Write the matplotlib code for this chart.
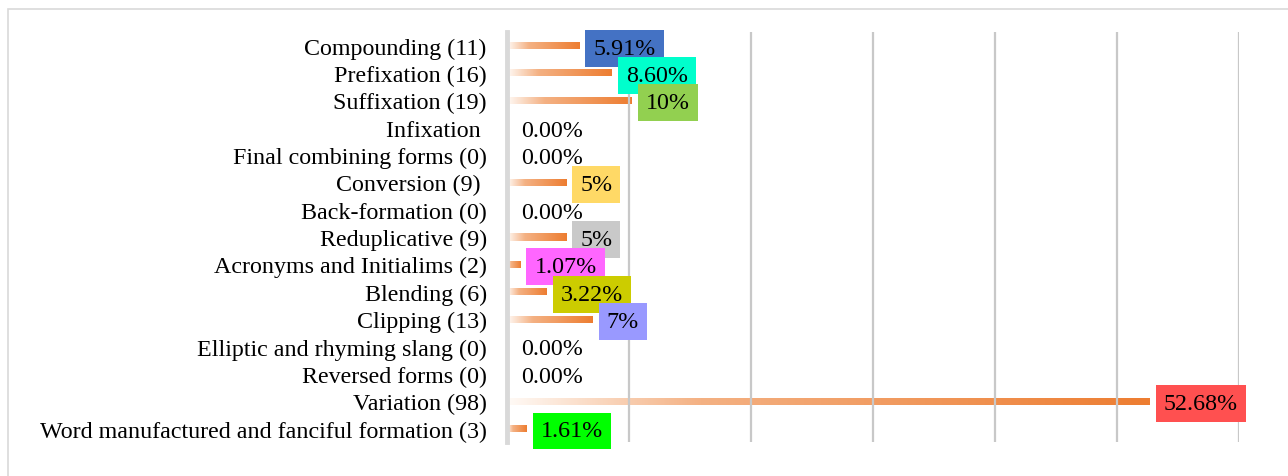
import matplotlib
matplotlib.use('Agg')
import matplotlib.pyplot as plt
import numpy as np
from matplotlib.colors import LinearSegmentedColormap
from matplotlib.patches import Rectangle

# categories, top to bottom
categories = ['Compounding (11)', 'Prefixation (16)', 'Suffixation (19)', 'Infixation ',
              'Final combining forms (0)', 'Conversion (9) ', 'Back-formation (0)',
              'Reduplicative (9)', 'Acronyms and Initialims (2)', 'Blending (6)',
              'Clipping (13)', 'Elliptic and rhyming slang (0)', 'Reversed forms (0)',
              'Variation (98)', 'Word manufactured and fanciful formation (3)']
# percentages (bar lengths)
values = [5.91, 8.60, 10.22, 0, 0, 4.84, 0, 4.84, 1.07, 3.22, 6.99, 0, 0, 52.68, 1.61]
# data label texts and their box colours
labels = ['5.91%', '8.60%', '10%', '0.00%', '0.00%', '5%', '0.00%', '5%', '1.07%',
          '3.22%', '7%', '0.00%', '0.00%', '52.68%', '1.61%']
box_colors = ['#4472C4', '#00FFCC', '#92D050', None, None, '#FFD966', None, '#C9C9C9',
              '#FF66FF', '#CCCC00', '#9999FF', None, None, '#FF5050', '#00FF00']

plt.rcParams['font.family'] = ['Liberation Serif', 'DejaVu Serif']
plt.rcParams['font.size'] = 17.3

fig = plt.figure(figsize=(12.88, 4.77), dpi=100)
ax = fig.add_axes([0.394, 0.071, 0.568, 0.860])

# outer border of the chart area
fig.patches.append(Rectangle((8 / 1288, -0.1), 1.2, 1.1 - 10 / 477, transform=fig.transFigure,
                             fill=False, edgecolor='#d9d9d9', linewidth=1.2))

y = np.arange(len(categories))
bars = ax.barh(y, values, height=0.26, color='none', edgecolor='none')

# white -> orange gradient inside each bar
cmap = LinearSegmentedColormap.from_list('grad', [(0, '#fffaf6'), (0.3, '#f4b183'), (1, '#ed7d31')])
grad = np.linspace(0, 1, 256).reshape(1, -1)
for bar in bars:
    w = bar.get_width()
    if w <= 0:
        continue
    x0, y0, h = bar.get_x(), bar.get_y(), bar.get_height()
    im = ax.imshow(grad, extent=[x0, x0 + w, y0 + h, y0], cmap=cmap, aspect='auto',
                   interpolation='bilinear', zorder=1)
    im.set_clip_path(bar)

# data labels
for i, (v, lab, c) in enumerate(zip(values, labels, box_colors)):
    bbox = dict(boxstyle='square,pad=0.33', facecolor=c, edgecolor='none') if c else None
    ax.annotate(lab, xy=(v, i), xytext=(10, 0), textcoords='offset points',
                ha='left', va='center_baseline', bbox=bbox, zorder=4, annotation_clip=False)

ax.set_xlim(0, 60)
ax.set_ylim(len(categories) - 0.5, -0.5)
ax.set_yticks(y)
ax.set_yticklabels(categories)
ax.set_xticks(np.arange(0, 61, 10))
ax.set_xticklabels([])
ax.tick_params(axis='both', length=0)
ax.tick_params(axis='y', pad=15)
ax.set_axisbelow(False)
ax.grid(axis='x', color='#c8c8c8', linewidth=1.6, zorder=2)

for s in ['top', 'right', 'bottom']:
    ax.spines[s].set_visible(False)
ax.spines['left'].set_color('#d9d9d9')
ax.spines['left'].set_linewidth(3.5)
ax.spines['left'].set_zorder(3)

fig.savefig('out.png', dpi=100)
